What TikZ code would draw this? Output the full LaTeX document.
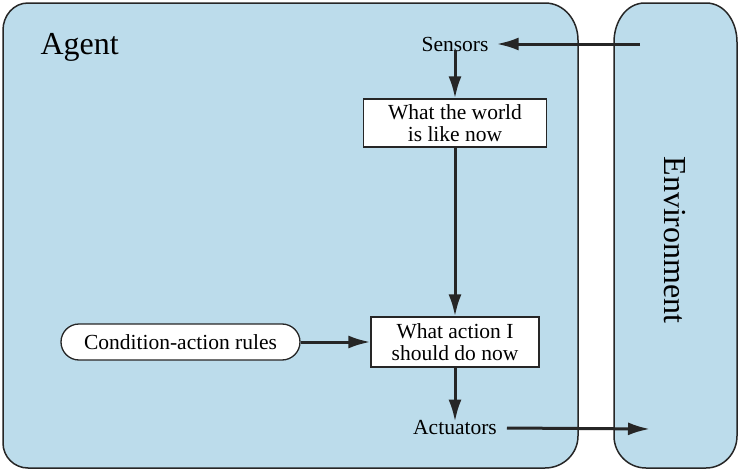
\documentclass[tikz,border=0pt]{standalone}
\usepackage{fontspec}
\setmainfont{Liberation Serif}
\newfontfamily\tms{Liberation Serif}
\usetikzlibrary{arrows.meta,shapes.misc}
\definecolor{panel}{RGB}{188,220,235}
\tikzset{
  panelbox/.style={draw=black!85, line width=1.5pt, fill=panel},
  textbox/.style={draw=black!85, line width=1.3pt, fill=white, align=center, font=\tms\fontsize{21.5}{22}\selectfont, inner sep=0pt},
  plain/.style={font=\tms\fontsize{21.5}{22}\selectfont, inner sep=2pt},
  flow/.style={line width=3pt, black!85, -{Latex[length=22pt,width=13pt]}},
}
\begin{document}
\begin{tikzpicture}[x=1pt,y=-1pt]
\useasboundingbox (0,0) rectangle (740,471);
\fill[white] (0,0) rectangle (740,471);
% agent panel
\draw[panelbox] (3,30) to[out=90,in=180] (28,3) -- (545,3) to[out=0,in=90] (578,40)
  -- (578,436) to[out=-90,in=0] (545,468) -- (28,468) to[out=180,in=-90] (3,443) -- cycle;
% environment panel
\draw[panelbox] (614,42) to[out=90,in=180] (645,3) -- (706,3) to[out=0,in=90] (737,42)
  -- (737,436) to[out=-90,in=0] (706,468) -- (646,468) to[out=180,in=-90] (614,436) -- cycle;
\node[font=\tms\fontsize{32}{32}\selectfont, anchor=west] (agent) at (37,47) {Agent};
\node[font=\tms\fontsize{32}{32}\selectfont, rotate=-90] (env) at (675,240) {Environment};
\node[plain] (sensors) at (455,44) {Sensors};
\node[plain] (actuators) at (455,428) {Actuators};
\node[textbox, minimum width=183pt, minimum height=48pt] (world) at (455,123) {What the world\\is like now};
\node[textbox, minimum width=168pt, minimum height=50pt] (action) at (455,342) {What action I\\should do now};
\node[textbox, rounded rectangle, minimum width=239pt, minimum height=36pt] (rules) at (180.5,342) {Condition-action rules};
\coordinate (envin) at (640,44);
\coordinate (envout) at (650,429);
\draw[flow] (envin) -- ([xshift=6pt]sensors.east);
\draw[flow] ([yshift=3pt]sensors.south) -- (world.north);
\draw[flow] (world.south) -- (action.north);
\draw[flow] (rules.east) -- (action.west);
\draw[flow] (action.south) -- ([yshift=-3pt]actuators.north);
\draw[flow] ([xshift=8pt]actuators.east) -- (envout);
\end{tikzpicture}
\end{document}
